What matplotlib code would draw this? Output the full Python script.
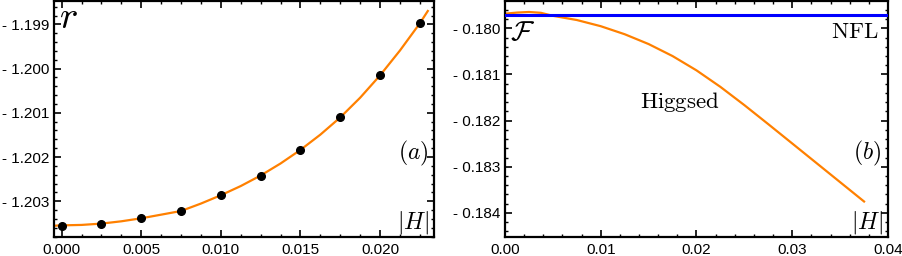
import matplotlib
matplotlib.use("Agg")
import matplotlib.pyplot as plt
from matplotlib.ticker import MultipleLocator, FuncFormatter

plt.rcParams['font.family'] = ['Liberation Sans', 'DejaVu Sans']
plt.rcParams['mathtext.fontset'] = 'cm'

# ---- panel (a) data ----
dots_H = [0.0, 0.0025, 0.005, 0.0075, 0.01, 0.0125, 0.015, 0.0175, 0.02, 0.0225]
dots_r = [-1.203550, -1.203505, -1.203385, -1.203220, -1.202864, -1.202418,
          -1.201839, -1.201105, -1.200154, -1.198977]
curve_a_H = [-0.0004, 0.0, 0.00125, 0.0025, 0.00375, 0.005, 0.00625, 0.0075, 0.00875,
             0.01, 0.01125, 0.0125, 0.01375, 0.015, 0.01625, 0.0175, 0.01875,
             0.02, 0.02125, 0.0225, 0.0230]
curve_a_r = [-1.203552, -1.203545, -1.203535, -1.203505, -1.203453, -1.203385, -1.203303,
             -1.203220, -1.203052, -1.202864, -1.202656, -1.202418, -1.202146,
             -1.201839, -1.201494, -1.201105, -1.200659, -1.200154, -1.199592,
             -1.198977, -1.198698]

# ---- panel (b) data ----
higgs_H = [0.0, 0.00125, 0.0025, 0.00375, 0.005, 0.0075, 0.01, 0.0125, 0.015, 0.0175,
           0.02, 0.0225, 0.025, 0.0275, 0.03, 0.0325, 0.035, 0.0375]
higgs_F = [-0.179683, -0.179659, -0.179646, -0.179664, -0.179729, -0.179820, -0.179954,
           -0.180128, -0.180341, -0.180601, -0.180911, -0.181269, -0.181664,
           -0.182077, -0.182495, -0.182914, -0.183333, -0.183752]
nfl_H = [0.0, 0.04]
nfl_F = [-0.179705, -0.179705]

ORANGE = '#FF8000'
BLUE = '#0000FF'

fig = plt.figure(figsize=(9.03, 2.56), dpi=100)
axa = fig.add_axes([54/903, 19/256, 380/903, 236/256])
axb = fig.add_axes([505/903, 19/256, 383/903, 236/256])


def style(ax):
    for s in ax.spines.values():
        s.set_linewidth(1.6)
    ax.tick_params(which='both', direction='in', top=True, right=True,
                   labelsize=11, width=1.2)
    ax.tick_params(axis='y', pad=3.5)
    ax.tick_params(axis='x', pad=4)
    ax.tick_params(which='major', length=5)
    ax.tick_params(which='minor', length=2.5, width=1.0)


axa.plot(curve_a_H, curve_a_r, color=ORANGE, lw=1.6, zorder=2)
axa.plot(dots_H, dots_r, 'o', color='black', ms=5.5, zorder=3)
axa.set_xlim(-0.00048, 0.02339)
axa.set_ylim(-1.203808, -1.198472)
axa.xaxis.set_major_locator(MultipleLocator(0.005))
axa.xaxis.set_minor_locator(MultipleLocator(0.00125))
axa.yaxis.set_major_locator(MultipleLocator(0.001))
axa.yaxis.set_minor_locator(MultipleLocator(0.0002))
axa.xaxis.set_major_formatter(FuncFormatter(lambda v, p: f"{v:.3f}"))
axa.yaxis.set_major_formatter(FuncFormatter(lambda v, p: f"- {abs(v):.3f}"))
style(axa)
axa.text(68, 256 - 18, r'$r$', transform=None, fontsize=28, ha='center', va='center')
axa.text(413, 256 - 153, r'$(a)$', transform=None, fontsize=17, ha='center', va='center')
axa.text(413, 256 - 222, r'$|H|$', transform=None, fontsize=17, ha='center', va='center')

axb.plot(higgs_H, higgs_F, color=ORANGE, lw=1.6, zorder=2)
axb.plot(nfl_H, nfl_F, color=BLUE, lw=2.2, zorder=3)
axb.set_xlim(0.0, 0.04)
axb.set_ylim(-0.184521, -0.179408)
axb.xaxis.set_major_locator(MultipleLocator(0.01))
axb.xaxis.set_minor_locator(MultipleLocator(0.002))
axb.yaxis.set_major_locator(MultipleLocator(0.001))
axb.yaxis.set_minor_locator(MultipleLocator(0.0002))
axb.xaxis.set_major_formatter(FuncFormatter(lambda v, p: f"{v:.2f}"))
axb.yaxis.set_major_formatter(FuncFormatter(lambda v, p: f"- {abs(v):.3f}"))
style(axb)
axb.text(523, 256 - 33, r'$\mathcal{F}$', transform=None, fontsize=20, ha='center', va='center')
axb.text(855, 256 - 32, r'$\mathrm{NFL}$', transform=None, fontsize=16.5, ha='center', va='center')
axb.text(680, 256 - 102, r'$\mathrm{Higgsed}$', transform=None, fontsize=16.5, ha='center', va='center')
axb.text(867, 256 - 153, r'$(b)$', transform=None, fontsize=17, ha='center', va='center')
axb.text(867, 256 - 222, r'$|H|$', transform=None, fontsize=17, ha='center', va='center')

fig.savefig('out.png', dpi=100)
